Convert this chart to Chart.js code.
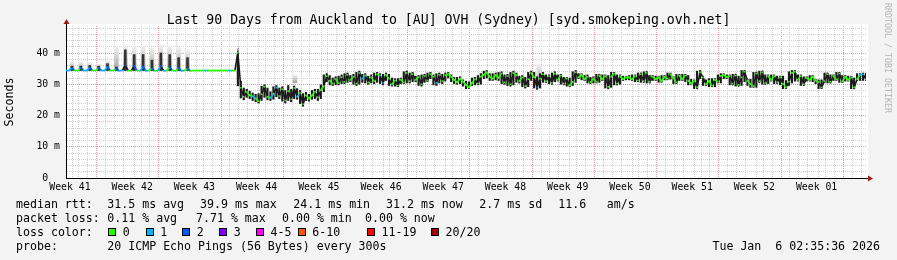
<!DOCTYPE html>
<html>
<head>
<meta charset="utf-8">
<script src="https://cdn.jsdelivr.net/npm/chart.js@4.4.1/dist/chart.umd.min.js"></script>
<style>
	html, body { margin: 0; padding: 0; background: #f3f3f3; }
	#wrap { position: relative; width: 897px; height: 260px; overflow: hidden; font-family: 'DejaVu Sans Mono', monospace; color: #000; }
	#chart { position: absolute; left: 0; top: 0; }
	.txt { position: absolute; white-space: pre; font-size: 11.6px; line-height: 14px; }
	.title { position: absolute; left: 0; top: 11.5px; width: 897px; text-align: center; white-space: pre; font-size: 13.2px; line-height: 16px; }
	.box { position: absolute; width: 8px; height: 8px; box-sizing: border-box; border: 1px solid #000; }
	.mark { position: absolute; left: 893px; top: 3px; transform-origin: left top; transform: rotate(90deg); white-space: pre; font-size: 8.3px; line-height: 10px; color: #b4b4b4; }
</style>
</head>
<body>
<div id="wrap">
	<canvas id="chart" width="897" height="260"></canvas>
	<div class="title">Last 90 Days from Auckland to [AU] OVH (Sydney) [syd.smokeping.ovh.net]</div>
	<div class="mark">RRDTOOL / TOBI OETIKER</div>
</div>
<script>
// x axis: days since the start of the graph, one sample every 1/3 day
const weekLabels = ['Week 41', 'Week 42', 'Week 43', 'Week 44', 'Week 45', 'Week 46', 'Week 47',
	'Week 48', 'Week 49', 'Week 50', 'Week 51', 'Week 52', 'Week 01'];
const firstWeekDay = 3.94;
const sampleStep = 1 / 3;
const totalDays = 90;

// median rtt (ms)
const median = [
	34.4, 34.4, 35.2, 34.4, 34.4, 35.2, 34.4, 34.4, 35.3, 34.4,
	34.4, 35.2, 34.4, 34.4, 35.6, 34.4, 34.4, 35.0, 34.3, 34.4,
	36.0, 34.4, 34.3, 35.8, 34.4, 34.3, 35.6, 34.3, 34.4, 35.0,
	34.3, 34.4, 35.8, 34.3, 34.4, 35.4, 34.4, 34.3, 35.2, 34.3,
	34.4, 35.0, 34.3, 34.4, 34.4, 34.4, 34.4, 34.4, 34.4, 34.4,
	34.4, 34.4, 34.4, 34.4, 34.4, 34.4, 34.4, 34.4,
	40.0, 28.9, 26.0, 27.5, 26.5, 26.2, 25.5, 24.6, 26.8, 29.2,
	26.0, 25.6, 27.0, 28.9, 26.2, 28.4, 24.8, 27.8, 25.2, 28.8,
	26.0, 27.2, 23.6, 26.5, 25.4, 26.4, 27.6, 25.8, 28.0, 29.4,
	32.6, 31.2, 30.2, 31.6, 30.4, 32.2, 30.8, 33.0, 31.4, 32.4,
	30.2, 33.6, 31.8, 32.8, 30.6, 32.2, 31.0, 33.2, 32.8, 30.4,
	33.0, 31.8, 29.9, 31.2, 29.6, 31.5, 30.6, 33.6, 31.0, 33.2,
	31.4, 32.2, 30.0, 32.6, 31.2, 33.2, 32.4, 30.4, 33.0, 31.0,
	32.8, 33.2, 32.4, 31.4, 30.6, 31.8, 30.8, 29.8, 29.0, 30.4,
	31.6, 30.2, 32.4, 33.0, 33.8, 32.4, 31.8, 33.0, 32.0, 33.4,
	30.6, 32.6, 30.0, 33.6, 32.8, 31.0, 32.2, 29.4, 31.6, 33.6,
	32.2, 29.0, 31.8, 33.2, 31.0, 32.6, 30.4, 33.4, 31.4, 32.8,
	30.2, 31.8, 29.6, 30.8, 33.8, 32.2, 33.0, 31.6, 32.4, 30.6,
	31.8, 30.8, 32.8, 31.6, 32.6, 29.2, 32.4, 33.4, 30.2, 32.6,
	31.6, 32.2, 32.2, 31.6, 32.6, 31.2, 33.2, 31.0, 33.6, 30.8,
	32.4, 31.6, 32.2, 31.0, 32.4, 31.8, 33.2, 32.0, 30.6, 32.8,
	31.6, 32.8, 31.2, 30.2, 31.0, 29.0, 33.8, 32.2, 30.0, 31.0,
	29.6, 31.4, 30.8, 32.6, 33.0, 32.2, 32.6, 30.2, 32.8, 29.8,
	32.2, 34.0, 31.2, 30.0, 29.4, 33.4, 31.0, 33.8, 30.4, 32.6,
	31.4, 32.6, 30.6, 32.2, 30.2, 29.0, 30.8, 33.6, 34.0, 31.4,
	32.6, 30.0, 32.0, 31.4, 32.4, 31.2, 30.6, 29.0, 31.0, 33.2,
	30.8, 32.6, 31.6, 33.4, 31.0, 32.4, 31.4, 32.2, 29.0, 31.6,
	33.0, 33.2, 31.6,
];

// loss bucket per sample (0 = no loss, 1 = 1/20, 2 = 2/20)
const loss = [
	1, 1, 2, 0, 0, 2, 1, 1, 2, 0, 0, 2, 1, 1, 2, 0, 0, 2, 1, 1,
	2, 0, 0, 2, 0, 1, 2, 1, 0, 2, 0, 1, 2, 1, 0, 2, 0, 0, 2, 1,
	0, 2, 0, 0, 0, 0, 0, 1, 0, 0, 0, 0, 0, 0, 0, 1, 0, 0,
	0, 0, 0, 0, 0, 1, 0, 0, 0, 0, 0, 1, 0, 1, 0, 0, 0, 0, 0, 0,
	1, 0, 0, 0, 0, 0, 0, 0, 0, 0,
	0, 0, 0, 0, 0, 0, 0, 0, 0, 0, 0, 0, 1, 0, 0, 0, 0, 0, 1, 1,
	0, 0, 0, 0, 0, 0, 0, 0, 0, 0, 0, 0, 0, 0, 0, 0, 0, 1, 0, 0,
	0, 0, 0, 0, 0, 0, 0, 0, 0, 0, 0, 0, 0, 0, 0, 0, 0, 0, 0, 0,
	0, 0, 0, 0, 0, 0, 0, 0, 0, 0, 0, 2, 0, 0, 0, 0, 0, 0, 0, 0,
	0, 0, 0, 0, 0, 0, 0, 0, 0, 0, 0, 0, 0, 0, 0, 0, 0, 0, 0, 0,
	0, 0, 0, 0, 0, 0, 0, 0, 0, 0, 0, 0, 0, 0, 0, 0, 0, 0, 0, 0,
	0, 0, 0, 0, 0, 0, 0, 0, 0, 0, 0, 0, 0, 0, 0, 0, 0, 0, 0, 0,
	0, 0, 0, 0, 0, 0, 0, 0, 0, 0, 0, 0, 0, 0, 0, 0, 0, 0, 0, 0,
	0, 0, 0, 0, 0, 0, 0, 0, 0, 0, 0, 0, 0, 0, 0, 0, 0, 0, 0, 0,
	1, 1, 0,
];

// dark smoke (spread of the pings) from sample 58 onwards
const smokeFrom = 58;
const smokeLo = [
	29.5, 25.6, 25.0, 25.8, 25.4, 24.8, 24.4, 24.0, 24.8, 25.8,
	25.0, 24.8, 25.2, 26.0, 25.4, 24.6, 24.0, 24.8, 24.4, 25.4,
	25.2, 23.8, 23.0, 24.8, 24.6, 25.2, 25.4, 24.8, 25.4, 27.6,
	30.8, 29.8, 29.6, 29.8, 29.8, 30.2, 30.2, 30.6, 30.8, 30.0,
	29.6, 30.0, 30.6, 30.4, 30.0, 30.4, 30.2, 30.6, 30.2, 29.8,
	31.2, 29.6, 29.4, 29.4, 29.2, 30.2, 30.2, 30.4, 30.4, 30.8,
	30.8, 29.6, 29.4, 30.6, 30.8, 31.8, 29.8, 29.6, 30.4, 30.2,
	31.0, 32.0, 30.8, 30.2, 30.0, 30.2, 29.4, 28.6, 28.6, 29.6,
	29.8, 29.8, 30.0, 31.8, 32.0, 31.2, 31.2, 31.4, 31.2, 30.2,
	30.0, 29.6, 29.4, 29.8, 30.6, 30.4, 29.2, 28.8, 29.2, 31.2,
	28.8, 28.4, 28.8, 30.6, 30.6, 30.2, 30.0, 30.8, 31.0, 30.0,
	29.8, 29.4, 29.2, 29.6, 30.6, 31.8, 31.4, 31.2, 30.4, 30.2,
	30.4, 30.4, 30.6, 31.2, 28.8, 28.6, 29.0, 29.8, 29.8, 30.0,
	31.2, 31.4, 31.4, 31.2, 30.8, 30.8, 30.6, 30.6, 30.4, 30.4,
	31.2, 31.2, 30.6, 30.6, 31.4, 31.4, 31.6, 30.2, 30.2, 31.2,
	31.2, 30.8, 29.8, 29.8, 28.6, 28.6, 31.8, 29.6, 29.6, 29.2,
	29.2, 29.2, 30.4, 30.4, 31.8, 31.8, 29.8, 29.8, 29.4, 29.4,
	29.6, 30.8, 29.6, 29.0, 29.0, 29.0, 30.6, 30.0, 30.0, 30.2,
	31.0, 30.2, 30.2, 29.8, 28.6, 28.6, 29.6, 30.4, 31.0, 31.0,
	29.6, 29.6, 31.0, 31.0, 30.8, 30.2, 28.6, 28.6, 30.6, 30.4,
	30.4, 31.2, 31.2, 30.6, 30.6, 31.0, 31.0, 28.6, 28.6, 31.2,
	31.2, 31.2, 31.2,
];
const smokeHi = [
	40.0, 31.0, 28.8, 28.4, 27.8, 27.2, 26.8, 27.0, 29.4, 29.8,
	28.8, 27.6, 29.2, 29.6, 28.8, 29.2, 28.0, 29.6, 28.4, 29.4,
	28.6, 28.0, 27.0, 27.4, 26.8, 28.0, 28.4, 28.4, 29.8, 33.0,
	33.4, 32.8, 32.0, 32.4, 32.6, 33.0, 33.4, 33.6, 32.8, 33.2,
	33.8, 34.2, 33.2, 33.4, 32.6, 33.0, 33.6, 33.8, 33.4, 33.2,
	33.6, 33.2, 32.0, 31.8, 31.8, 32.0, 34.0, 34.2, 33.6, 33.8,
	32.6, 32.8, 33.0, 33.2, 33.6, 33.8, 33.0, 33.4, 33.6, 33.2,
	33.6, 33.8, 33.0, 32.2, 32.2, 32.4, 31.4, 31.0, 30.8, 32.0,
	32.2, 32.8, 33.4, 34.2, 34.4, 33.4, 33.4, 33.6, 33.8, 34.0,
	33.0, 33.2, 33.8, 34.2, 33.6, 32.6, 32.8, 32.2, 33.8, 34.2,
	33.8, 32.4, 33.4, 33.8, 33.0, 33.0, 33.6, 34.0, 33.0, 33.2,
	32.2, 32.2, 32.0, 34.0, 34.4, 33.4, 33.4, 32.8, 33.0, 32.2,
	32.4, 33.2, 33.2, 33.0, 33.0, 32.8, 33.8, 33.8, 33.0, 33.0,
	32.6, 32.6, 32.8, 33.0, 33.0, 33.6, 33.6, 34.0, 34.0, 32.8,
	32.8, 32.6, 32.6, 32.8, 32.8, 33.6, 33.6, 32.4, 33.2, 33.2,
	33.2, 33.2, 32.8, 31.6, 31.4, 34.2, 34.4, 32.6, 31.4, 31.8,
	31.8, 31.8, 33.0, 33.4, 33.4, 33.0, 33.0, 33.2, 33.2, 32.6,
	34.4, 34.4, 31.6, 31.6, 33.8, 33.8, 34.2, 34.2, 33.0, 33.0,
	33.0, 33.0, 32.6, 32.6, 32.6, 31.2, 34.0, 34.4, 34.4, 33.0,
	33.0, 32.4, 32.4, 32.8, 32.8, 31.6, 31.4, 31.4, 33.6, 33.6,
	33.0, 33.0, 33.8, 33.8, 32.8, 32.8, 32.6, 32.6, 32.0, 33.4,
	33.4, 33.6, 33.6,
];

// light smoke above the median line
const spikeDays = [0.67, 1.67, 2.67, 3.67, 4.67, 5.67, 6.67, 7.67, 8.67, 9.67, 10.67, 11.67, 12.67, 13.67, 25.76, 53.2];
const spikeBase = [34.4, 34.4, 34.4, 34.4, 34.4, 34.4, 34.4, 34.4, 34.4, 34.4, 34.4, 34.4, 34.4, 34.4, 30.5, 30.2];
const spikeDark = [35.8, 35.8, 36.0, 35.8, 36.6, 35.5, 41.0, 39.5, 39.5, 37.7, 40.0, 39.5, 38.5, 38.5, null, null];
const spikeLight = [37.3, 37.2, 37.0, 36.5, 37.5, 42.0, 42.7, 42.0, 42.4, 41.7, 42.7, 42.4, 41.8, 41.1, 33.0, 36.6];

const yTickValues = [0, 10, 20, 30, 40];
const yTickLabels = ['0  ', '10 m', '20 m', '30 m', '40 m'];

const lossLabels = ['0', '1', '2', '3', '4-5', '6-10', '11-19', '20/20'];
const lossColors = ['#26ff00', '#00b8ff', '#0059ff', '#7e00ff', '#ff00ff', '#ff5500', '#ff0000', '#a10000'];

const rttStats = ['31.5 ms avg', '39.9 ms max', '24.1 ms min', '31.2 ms now', '2.7 ms sd', '11.6', 'am/s'];
const lossStats = ['0.11 % avg', '7.71 % max', '0.00 % min', '0.00 % now'];
const probeText = '20 ICMP Echo Pings (56 Bytes) every 300s';
const stampText = 'Tue Jan  6 02:35:36 2026';

const GRID_MINOR = '#cfcfcf';
const GRID_MAJOR = 'rgba(235, 110, 110, 0.75)';
const SMOKE = '#1a1a1a';
const FONT = "'DejaVu Sans Mono', monospace";

// ---- x ticks: daily grid, weekly red grid, week labels in between
const tickKind = new Map();
const tickKey = v => v.toFixed(3);

function buildXTicks(scale) {
	const ticks = [];
	for (let d = firstWeekDay - 3; d < totalDays; d += 1) {
		const kind = Math.round(d - firstWeekDay) % 7 === 0 ? 'week' : 'day';
		tickKind.set(tickKey(d), { kind });
		ticks.push({ value: d });
	}
	weekLabels.forEach((label, i) => {
		const d = firstWeekDay - 3.5 + i * 7;
		tickKind.set(tickKey(d), { kind: 'label', label });
		ticks.push({ value: d });
	});
	ticks.sort((a, b) => a.value - b.value);
	scale.ticks = ticks;
}

const medianPoints = median.map((v, i) => ({ x: i * sampleStep, y: v }));
const smokeBars = smokeLo.map((lo, k) => ({ x: (smokeFrom + k) * sampleStep, y: [lo, smokeHi[k]] }));

// steep jumps read as smoke, gentle ones keep the loss colour
function segmentColor(c) {
	const jump = Math.abs(c.p1.parsed.y - c.p0.parsed.y);
	return jump > 1.4 ? SMOKE : lossColors[loss[c.p0DataIndex]];
}

function lightGradient(ctx) {
	const chart = ctx.chart;
	const i = ctx.dataIndex;
	if (!chart.chartArea || i === undefined) return '#cccccc';
	const y = chart.scales.y;
	const g = chart.ctx.createLinearGradient(0, y.getPixelForValue(spikeBase[i]), 0, y.getPixelForValue(spikeLight[i]));
	g.addColorStop(0, '#a4a4a4');
	g.addColorStop(1, '#f2f2f2');
	return g;
}

const plotFrame = {
	id: 'plotFrame',
	beforeDraw(chart) {
		const { ctx, chartArea: a } = chart;
		ctx.save();
		ctx.fillStyle = '#ffffff';
		ctx.fillRect(a.left, a.top - 2, a.right - a.left + 2, a.bottom - a.top + 2);
		ctx.restore();
	},
	afterDraw(chart) {
		const { ctx, chartArea: a } = chart;
		ctx.save();
		ctx.strokeStyle = '#000';
		ctx.lineWidth = 1;
		ctx.beginPath();
		ctx.moveTo(a.left + 0.5, a.top + 1);
		ctx.lineTo(a.left + 0.5, a.top - 3);
		ctx.moveTo(a.right - 1, a.bottom + 0.5);
		ctx.lineTo(a.right + 3, a.bottom + 0.5);
		ctx.stroke();
		ctx.fillStyle = '#9b1c1c';
		ctx.beginPath();
		ctx.moveTo(a.left - 2.5, a.top - 2);
		ctx.lineTo(a.left + 3.5, a.top - 2);
		ctx.lineTo(a.left + 0.5, a.top - 7);
		ctx.closePath();
		ctx.fill();
		ctx.beginPath();
		ctx.moveTo(a.right + 2, a.bottom - 2.5);
		ctx.lineTo(a.right + 2, a.bottom + 3.5);
		ctx.lineTo(a.right + 7, a.bottom + 0.5);
		ctx.closePath();
		ctx.fill();
		ctx.restore();
	},
};

new Chart(document.getElementById('chart'), {
	type: 'line',
	data: {
		datasets: [
			{
				label: 'median',
				data: medianPoints,
				borderWidth: 1.6,
				borderColor: lossColors[0],
				segment: { borderColor: segmentColor },
				pointStyle: 'rect',
				pointRadius: 1.1,
				pointBorderWidth: 0,
				pointBackgroundColor: c => lossColors[loss[c.dataIndex]],
				tension: 0,
				order: 0,
			},
			{
				type: 'bar',
				label: 'smoke',
				data: smokeBars,
				backgroundColor: SMOKE,
				barThickness: 1.5,
				grouped: false,
				order: 1,
			},
			{
				type: 'bar',
				label: 'smoke spikes',
				data: spikeDays.map((d, i) => ({ x: d, y: spikeDark[i] === null ? null : [spikeBase[i], spikeDark[i]] })),
				backgroundColor: '#333333',
				barThickness: 2,
				grouped: false,
				order: 2,
			},
			{
				type: 'bar',
				label: 'smoke light',
				data: spikeDays.map((d, i) => ({ x: d, y: [spikeBase[i], spikeLight[i]] })),
				backgroundColor: lightGradient,
				barThickness: 4,
				grouped: false,
				order: 3,
			},
		],
	},
	options: {
		responsive: false,
		animation: false,
		devicePixelRatio: 1,
		layout: { padding: { left: 0, right: 31, top: 26, bottom: 0 } },
		plugins: {
			legend: { display: false },
			tooltip: { enabled: false },
			title: { display: false },
		},
		scales: {
			x: {
				type: 'linear',
				min: 0,
				max: totalDays,
				offset: false,
				afterBuildTicks: buildXTicks,
				afterFit: scale => { scale.height = 82; },
				grid: {
					drawTicks: false,
					lineWidth: 1,
					color: c => {
						const k = c.tick && tickKind.get(tickKey(c.tick.value));
						if (!k || k.kind === 'label') return 'rgba(0,0,0,0)';
						return k.kind === 'week' ? GRID_MAJOR : GRID_MINOR;
					},
				},
				border: { display: true, color: '#000', width: 1, dash: [1, 1] },
				ticks: {
					autoSkip: false,
					maxRotation: 0,
					padding: 4,
					color: '#000',
					font: { family: FONT, size: 9.8 },
					callback: v => {
						const k = tickKind.get(tickKey(v));
						return k && k.kind === 'label' ? k.label : '';
					},
				},
			},
			y: {
				min: 0,
				max: 48.64,
				afterFit: scale => { scale.width = 66; },
				grid: {
					drawTicks: false,
					color: c => {
						const v = c.tick.value;
						if (v === 0) return 'rgba(0,0,0,0)';
						return v % 10 === 0 ? GRID_MAJOR : GRID_MINOR;
					},
				},
				border: { display: true, color: '#000', width: 1, dash: [1, 1] },
				ticks: {
					stepSize: 2,
					includeBounds: false,
					autoSkip: false,
					padding: 6,
					color: '#000',
					font: { family: FONT, size: 9.8 },
					callback: v => {
						const i = yTickValues.indexOf(v);
						return i >= 0 ? yTickLabels[i] : '';
					},
				},
				title: {
					display: true,
					text: 'Seconds',
					color: '#000',
					padding: { top: 3, bottom: 0 },
					font: { family: FONT, size: 11.6 },
				},
			},
		},
	},
	plugins: [plotFrame],
});

// ---- legend block under the graph
const wrap = document.getElementById('wrap');
function addText(text, left, top, align) {
	const el = document.createElement('div');
	el.className = 'txt';
	el.textContent = text;
	el.style.top = top + 'px';
	if (align === 'right') {
		el.style.right = (897 - left) + 'px';
	} else {
		el.style.left = left + 'px';
	}
	wrap.appendChild(el);
}

const rowTop = [196.7, 210.7, 224.7, 238.7];
const rttLeft = [107.3, 200, 293.3, 386, 479.3, 558.3, 606.7];
const lossLeft = [107.3, 196, 282, 365];
const boxLeft = [108.3, 145.7, 182.3, 219.3, 256, 297.7, 367, 431];

addText('median rtt:', 16, rowTop[0]);
rttStats.forEach((t, i) => addText(t, rttLeft[i], rowTop[0]));
addText('packet loss:', 16, rowTop[1]);
lossStats.forEach((t, i) => addText(t, lossLeft[i], rowTop[1]));
addText('loss color:', 16, rowTop[2]);
lossLabels.forEach((t, i) => {
	const b = document.createElement('div');
	b.className = 'box';
	b.style.left = boxLeft[i] + 'px';
	b.style.top = '228px';
	b.style.background = lossColors[i];
	wrap.appendChild(b);
	addText(t, boxLeft[i] + 14.5, rowTop[2]);
});
addText('probe:', 16, rowTop[3]);
addText(probeText, 107.3, rowTop[3]);
addText(stampText, 880, rowTop[3], 'right');
</script>
</body>
</html>
